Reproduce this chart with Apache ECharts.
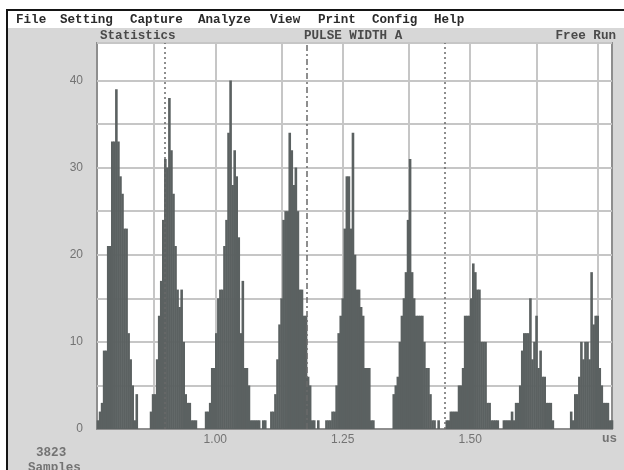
<!DOCTYPE html>
<html>
<head>
<meta charset="utf-8">
<script src="https://cdn.jsdelivr.net/npm/echarts@6/dist/echarts.min.js"></script>
<style>
html, body { margin: 0; padding: 0; background: #fff; overflow: hidden; }
.frame {
  position: absolute; left: 6px; top: 9px; width: 640px; height: 480px;
  border: 2px solid #151515; background: #d7d7d7;
}
.menu {
  position: absolute; left: 8px; top: 11px; width: 620px; height: 17px; background: #fff;
}
#chart { position: absolute; left: 0; top: 0; width: 624px; height: 470px; }
</style>
</head>
<body>
<div class="frame"></div>
<div class="menu"></div>
<div id="chart"></div>
<script>
// menu + header texts
const menuItems = ['File', 'Setting', 'Capture', 'Analyze', 'View', 'Print', 'Config', 'Help']
const menuX = [16, 60, 130, 198, 270, 318, 372, 434]
const headerLeft = 'Statistics'
const headerMid = 'PULSE WIDTH A'
const headerRight = 'Free Run'
const sampleCount = '3823'
const sampleLabel = 'Samples'
const unitLabel = 'us'

// histogram bins (us)
const binStart = 0.768
const binWidth = 0.004
const peakStarts = [0, 26, 53, 87, 112, 145, 171, 199, 232]
const peak1 = [1, 2, 3, 9, 9, 21, 21, 33, 33, 39, 33, 29, 27, 23, 23, 11, 8, 5, 1, 4]
const peak2 = [2, 4, 4, 8, 13, 17, 24, 31, 30, 38, 32, 27, 21, 16, 14, 16, 10, 4, 3, 3, 1, 1, 1]
const peak3 = [2, 2, 3, 7, 7, 11, 15, 16, 16, 21, 24, 34, 40, 28, 32, 29, 22, 11, 17, 7, 7, 5, 1, 1, 1, 1, 1, 0, 1, 1, 0, 0, 2, 2]
const peak4 = [4, 8, 12, 15, 24, 25, 25, 34, 32, 28, 30, 25, 16, 16, 13, 13, 6, 5, 1, 1, 0, 1]
const peak5 = [1, 1, 1, 2, 2, 5, 11, 13, 15, 23, 29, 29, 23, 34, 20, 16, 16, 14, 13, 7, 7, 7, 1, 1]
const peak6 = [4, 5, 6, 10, 13, 15, 18, 24, 31, 18, 15, 13, 13, 13, 13, 10, 7, 7, 4, 1, 1, 0, 1]
const peak7 = [1, 1, 2, 2, 2, 2, 5, 5, 7, 13, 13, 13, 15, 19, 18, 16, 16, 10, 10, 10, 3, 3, 1, 1, 1, 1]
const peak8 = [1, 1, 1, 1, 2, 1, 3, 3, 5, 9, 11, 11, 11, 15, 8, 10, 13, 7, 9, 6, 6, 3, 3, 3, 1]
const peak9 = [2, 1, 4, 4, 6, 10, 8, 10, 10, 8, 18, 12, 13, 13, 7, 5, 3, 3, 3, 1, 1]

const xMin = 0.768
const xMax = 1.778
const xLabels = [1.0, 1.25, 1.5]
const gridX = [0.875, 1.0, 1.125, 1.25, 1.375, 1.5, 1.625, 1.75]
const cursorX = [0.903, 1.176, 1.447]
const yMax = 44.3

const peaks = [peak1, peak2, peak3, peak4, peak5, peak6, peak7, peak8, peak9]
const barData = []
peaks.forEach((counts, p) => {
  counts.forEach((v, i) => {
    if (v > 0) barData.push([binStart + (peakStarts[p] + i + 0.5) * binWidth, v])
  })
})

const menuFont = 'bold 12.6px "Liberation Mono", "DejaVu Sans Mono", monospace'
const labelColor = '#737373'

const graphicTexts = [
  ...menuItems.map((t, i) => ({
    type: 'text', left: menuX[i], top: 13,
    style: { text: t, font: menuFont, fill: '#2b2b2b' },
  })),
  { type: 'text', left: 100, top: 29, style: { text: headerLeft, font: menuFont, fill: '#4a4a4a' } },
  { type: 'text', left: 304, top: 29, style: { text: headerMid, font: menuFont, fill: '#4a4a4a' } },
  { type: 'text', right: 8, top: 29, style: { text: headerRight, font: menuFont, fill: '#4a4a4a' } },
  { type: 'text', left: 36, top: 446, style: { text: sampleCount, font: menuFont, fill: labelColor } },
  { type: 'text', left: 28, top: 461, style: { text: sampleLabel, font: menuFont, fill: labelColor } },
  { type: 'text', left: 602, top: 432, style: { text: unitLabel, font: menuFont, fill: labelColor } },
]

const chart = echarts.init(document.getElementById('chart'))
chart.setOption({
  animation: false,
  backgroundColor: 'transparent',
  graphic: graphicTexts,
  grid: {
    left: 97, right: 12, top: 43, bottom: 41,
    show: true, backgroundColor: '#fff',
    borderColor: '#8e8e8e', borderWidth: 2,
  },
  xAxis: {
    type: 'value', min: xMin, max: xMax,
    splitLine: { show: false },
    axisTick: { show: false },
    axisLine: { show: true, lineStyle: { color: '#8e8e8e', width: 2 } },
    axisLabel: {
      customValues: xLabels,
      formatter: v => v.toFixed(2),
      color: labelColor, font: menuFont, margin: 5,
    },
  },
  yAxis: {
    type: 'value', min: 0, max: yMax, interval: 5,
    axisLine: { show: false },
    axisTick: { show: false },
    axisLabel: {
      formatter: v => (v % 10 === 0 ? String(v) : ''),
      color: labelColor, font: menuFont, margin: 14,
    },
    splitLine: { lineStyle: { color: '#c6c6c6', width: 2 } },
  },
  series: [
    {
      type: 'line', data: [], silent: true, z: 1,
      markLine: {
        z: 1, silent: true, symbol: 'none', animation: false,
        label: { show: false },
        lineStyle: { color: '#c6c6c6', width: 2, type: 'solid' },
        data: gridX.map(v => ({ xAxis: v })),
      },
    },
    {
      type: 'bar', data: barData, barWidth: 2.6, z: 2,
      itemStyle: { color: '#5b6161' },
      markLine: {
        silent: true, symbol: 'none', animation: false,
        label: { show: false },
        data: cursorX.map((v, i) => ({
          xAxis: v,
          lineStyle: { color: '#6a6a6a', width: 1.5, type: i === 1 ? [6, 3, 2, 3] : [2, 3] },
        })),
      },
    },
  ],
})
</script>
</body>
</html>
